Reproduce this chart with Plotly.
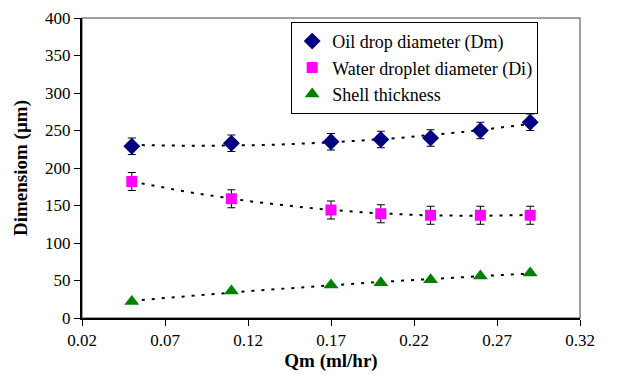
import numpy as np
import plotly.graph_objects as go

qm = [0.05, 0.11, 0.17, 0.20, 0.23, 0.26, 0.29]
dm = [229, 233, 235, 238, 240, 250, 261]
dm_err = [11, 11, 11, 11, 11, 11, 11]
di = [182, 159, 144, 139, 137, 137, 137]
di_err = [12, 12, 12, 12, 12, 12, 12]
shell = [22, 36, 44, 47, 51, 56, 60]

x_ticks = [0.02, 0.07, 0.12, 0.17, 0.22, 0.27, 0.32]
y_ticks = [0, 50, 100, 150, 200, 250, 300, 350, 400]

FONT = "Times New Roman, Liberation Serif, DejaVu Serif, serif"

fig = go.Figure()

xx = np.linspace(min(qm), max(qm), 60)
for ys in (dm, di, shell):
    c = np.polyfit(qm, ys, 2)
    fig.add_trace(go.Scatter(x=xx, y=np.polyval(c, xx), mode="lines",
                             line=dict(color="black", width=2, dash="3px,7px"),
                             showlegend=False, hoverinfo="skip"))

fig.add_trace(go.Scatter(x=qm, y=dm, mode="markers", name="Oil drop diameter (Dm)",
                         marker=dict(symbol="diamond", size=13, color="#000080"),
                         error_y=dict(type="data", array=dm_err, color="black", thickness=1, width=4)))
fig.add_trace(go.Scatter(x=qm, y=di, mode="markers", name="Water droplet diameter (Di)",
                         marker=dict(symbol="square", size=11, color="#ff00ff"),
                         error_y=dict(type="data", array=di_err, color="black", thickness=1, width=4)))
fig.add_trace(go.Scatter(x=qm, y=shell, mode="markers", name="Shell thickness",
                         marker=dict(symbol="triangle-up", size=13, color="#008000")))

fig.add_shape(type="rect", xref="x domain", yref="y domain", x0=0, x1=1, y0=0, y1=1,
              line=dict(color="#808080", width=1.5), layer="below")

# page body has an 8px margin, so the figure is 8px smaller and margins are shifted
fig.update_layout(
    width=630, height=366,
    margin=dict(l=74, r=58, t=10, b=56),
    paper_bgcolor="white", plot_bgcolor="white",
    font=dict(family=FONT, size=17, color="black"),
    legend=dict(x=0.42, y=0.987, xanchor="left", yanchor="top",
                bordercolor="black", borderwidth=1, bgcolor="white",
                font=dict(family=FONT, size=18), tracegroupgap=0, itemwidth=30),
    xaxis=dict(range=[0.02, 0.32], tickvals=x_ticks, tickformat=".2f", automargin=False,
               showgrid=False, zeroline=False, showline=True, linecolor="black", linewidth=2,
               ticks="outside", ticklen=6, tickcolor="black",
               title=dict(text="<b>Qm (ml/hr)</b>", font=dict(family=FONT, size=19), standoff=4)),
    yaxis=dict(range=[0, 400], tickvals=y_ticks, automargin=False,
               showgrid=False, zeroline=False, showline=True, linecolor="black", linewidth=2,
               ticks="outside", ticklen=6, tickcolor="black",
               title=dict(text="<b>Dimensiom (µm)</b>", font=dict(family=FONT, size=19), standoff=12)),
)

fig.write_html("out.html")
